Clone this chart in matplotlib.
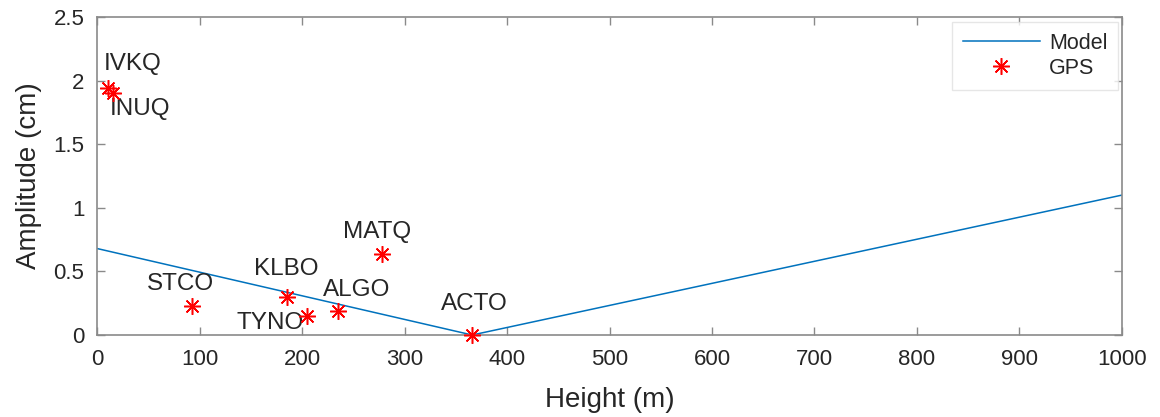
import matplotlib.pyplot as plt

plt.rcParams['font.family'] = ['Liberation Sans', 'DejaVu Sans']

# GPS stations: height (m) and observed amplitude (cm)
stations = ['IVKQ', 'INUQ', 'STCO', 'KLBO', 'TYNO', 'ALGO', 'MATQ', 'ACTO']
heights = [11, 16, 93, 185, 205, 235, 278, 366]
amplitudes = [1.94, 1.90, 0.23, 0.30, 0.15, 0.19, 0.64, 0.0]

# Model curve
model_height = [0, 366, 1000]
model_amp = [0.68, 0.0, 1.10]

# label placement (offset in pixels, horizontal alignment)
label_offsets = {
    'IVKQ': ((-5, 24), 'left'),
    'INUQ': ((-4, -16), 'left'),
    'STCO': ((-12, 22), 'center'),
    'KLBO': ((0, 28), 'center'),
    'TYNO': ((-3, -7), 'right'),
    'ALGO': ((19, 21), 'center'),
    'MATQ': ((-5, 22), 'center'),
    'ACTO': ((2, 31), 'center'),
}

fig = plt.figure(figsize=(11.6, 4.17), dpi=100)
ax = fig.add_axes([97 / 1160, 1 - 335 / 417, (1122 - 97) / 1160, (335 - 17) / 417])

ax.plot(model_height, model_amp, color='#0072BD', lw=1.1, label='Model')
ax.plot(heights, amplitudes, ls='none', marker=(8, 2, 0), ms=12, mew=1.1,
        color='red', label='GPS', clip_on=False, zorder=5)

for name, h, a in zip(stations, heights, amplitudes):
    off, ha = label_offsets[name]
    ax.annotate(name, (h, a), xytext=off, textcoords='offset pixels',
                ha=ha, va='center', fontsize=17.5, color='#262626')

ax.set_xlim(0, 1000)
ax.set_ylim(0, 2.5)
ax.set_xticks(range(0, 1001, 100))
ax.set_yticks([0, 0.5, 1, 1.5, 2, 2.5])
ax.set_yticklabels(['0', '0.5', '1', '1.5', '2', '2.5'])
ax.tick_params(direction='in', top=True, right=True, length=6, width=1,
               color='#8a8a8a', labelsize=16, labelcolor='#262626')
ax.tick_params(axis='x', pad=10)
ax.tick_params(axis='y', pad=9)
for s in ax.spines.values():
    s.set_color('#8a8a8a')
    s.set_linewidth(1.2)

ax.set_xlabel('Height (m)', fontsize=20, color='#262626', labelpad=12)
ax.set_ylabel('Amplitude (cm)', fontsize=20, color='#262626', labelpad=8)

leg = ax.legend(loc='upper right', fontsize=15.5, frameon=True, fancybox=False,
                borderpad=0.5, handlelength=3.6, labelspacing=0.2,
                handletextpad=0.42, borderaxespad=0,
                bbox_to_anchor=(0.9965, 0.985))
leg.get_frame().set_edgecolor('#e0e0e0')
leg.get_frame().set_linewidth(1.0)
for t in leg.get_texts():
    t.set_color('#262626')

fig.savefig('out.png', dpi=100)
plt.close(fig)
